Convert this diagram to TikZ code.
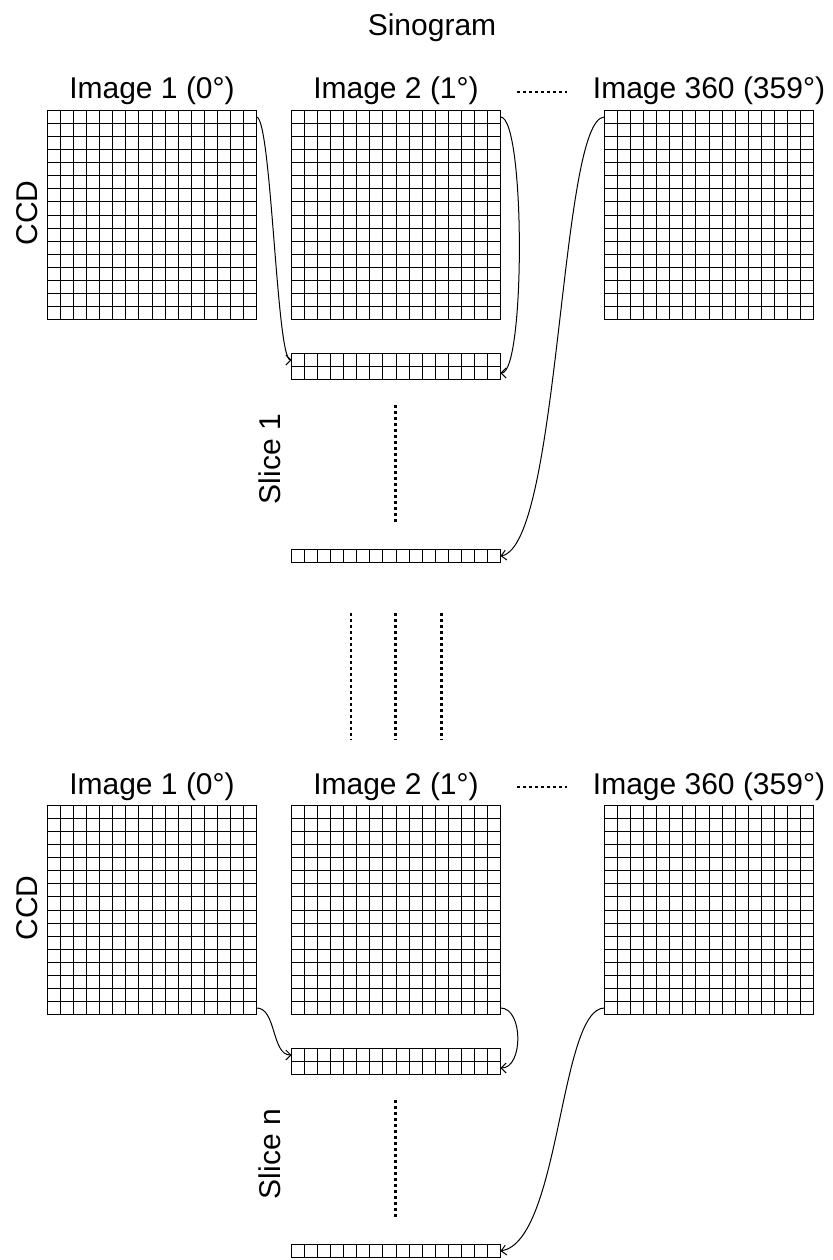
\documentclass[tikz,border=0pt]{standalone}
\usepackage{fontspec}
\setmainfont{Liberation Sans}
\usetikzlibrary{arrows.meta,calc}
\newcommand\cellgrid[7]{% #1 name, #2 x, #3 y, #4 cols, #5 rows, #6 cell w, #7 cell h
  \node[cellbox, minimum width={#4*#6*1pt}, minimum height={#5*#7*1pt}] (#1) at (#2,#3) {};
  \pgfmathtruncatemacro\cgc{#4-1}%
  \pgfmathtruncatemacro\cgr{#5-1}%
  \foreach \i in {1,...,\cgc} {\draw[cellline] (#2+\i*#6,#3) -- (#2+\i*#6,#3+#5*#7);}
  \ifnum\cgr>0
    \foreach \j in {1,...,\cgr} {\draw[cellline] (#2,#3+\j*#7) -- (#2+#4*#6,#3+\j*#7);}
  \fi
}
\begin{document}
\begin{tikzpicture}[x=1pt,y=-1pt,
  lbl/.style={font=\fontsize{30}{36}\selectfont, inner sep=0pt, anchor=base},
  cellbox/.style={draw, line width=1.1pt, inner sep=0pt, outer sep=0pt, anchor=north west},
  cellline/.style={line width=0.9pt},
  arr/.style={-{Straight Barb[length=5pt,width=10pt]}, line width=1pt},
  dots/.style={line width=2.8pt, dash pattern=on 3.4pt off 2.6pt}]
\useasboundingbox (0,0) rectangle (832,1260);

% title
\node[lbl] (title) at (432,36) {Sinogram};

% ---------- upper group ----------
\node[lbl] (l1u) at (152,99) {Image 1 (0°)};
\node[lbl] (l2u) at (396,99) {Image 2 (1°)};
\node[lbl] (l3u) at (709,99) {Image 360 (359°)};
\node[lbl, rotate=90] (ccdu) at (37,213) {CCD};
\node[lbl, rotate=90] (sliceu) at (280,459) {Slice 1};

\cellgrid{img1u}{47.5}{110.5}{16}{16}{13.06}{13.06}
\cellgrid{img2u}{291.5}{110.5}{16}{16}{13.06}{13.06}
\cellgrid{img3u}{604.5}{110.5}{16}{16}{13.06}{13.06}
\cellgrid{s1a}{291.5}{353.5}{16}{2}{13.06}{13}
\cellgrid{s1z}{291.5}{549.5}{16}{1}{13.06}{13}

\draw[dots] (517,92) -- (567,92);
\draw[dots] (395.7,405) -- (395.7,522);

\draw[arr] ($(img1u.north east)+(0,6.5)$) .. controls +(15,0) and +(-15,0) .. ($(s1a.north west)+(0,6.5)$);
\draw[arr] ($(img2u.north east)+(0,6.5)$) .. controls +(25,0) and +(25,0) .. ($(s1a.south east)+(0,-6.5)$);
\draw[arr] ($(img3u.north west)+(0,6.5)$) .. controls +(-45,0) and +(60,-10) .. (s1z.east);

% ---------- middle dots ----------
\draw[dots] (351,613) -- (351,740);
\draw[dots] (395.7,613) -- (395.7,740);
\draw[dots] (441.7,613) -- (441.7,740);

% ---------- lower group ----------
\node[lbl] (l1l) at (152,794) {Image 1 (0°)};
\node[lbl] (l2l) at (396,794) {Image 2 (1°)};
\node[lbl] (l3l) at (709,794) {Image 360 (359°)};
\node[lbl, rotate=90] (ccdl) at (37,908) {CCD};
\node[lbl, rotate=90] (slicel) at (280,1154) {Slice n};

\cellgrid{img1l}{47.5}{805.5}{16}{16}{13.06}{13.06}
\cellgrid{img2l}{291.5}{805.5}{16}{16}{13.06}{13.06}
\cellgrid{img3l}{604.5}{805.5}{16}{16}{13.06}{13.06}
\cellgrid{s2a}{291.5}{1048.5}{16}{2}{13.06}{13}
\cellgrid{s2z}{291.5}{1244.5}{16}{1}{13.06}{13}

\draw[dots] (517,787) -- (567,787);
\draw[dots] (395.7,1100) -- (395.7,1217);

\draw[arr] ($(img1l.south east)+(0,-6.5)$) .. controls +(20,0) and +(-20,0) .. ($(s2a.north west)+(0,6.5)$);
\draw[arr] ($(img2l.south east)+(0,-6.5)$) .. controls +(23,0) and +(23,0) .. ($(s2a.south east)+(0,-6.5)$);
\draw[arr] ($(img3l.south west)+(0,-6.5)$) .. controls +(-45,0) and +(60,-10) .. (s2z.east);
\end{tikzpicture}
\end{document}
